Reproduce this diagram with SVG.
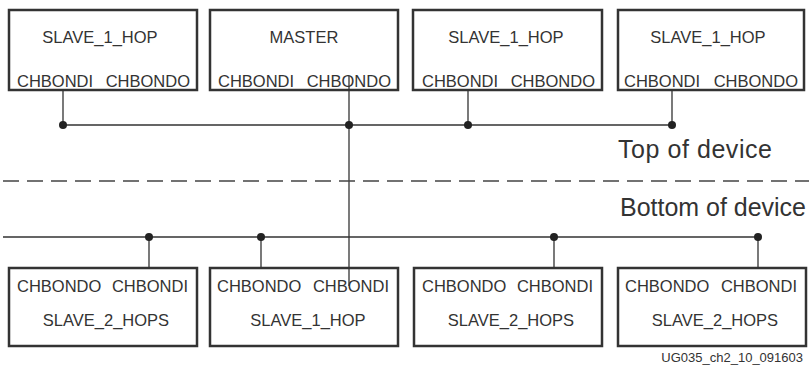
<svg xmlns="http://www.w3.org/2000/svg" width="809" height="370" viewBox="0 0 809 370">
<style>
.box{fill:#fff;stroke:#333;stroke-width:2.5}
.t{font-family:"Liberation Sans",Arial,sans-serif;font-size:16.5px;fill:#333}
.big{font-family:"Liberation Sans",Arial,sans-serif;font-size:25px;fill:#333}
.sm{font-family:"Liberation Sans",Arial,sans-serif;font-size:13px;fill:#333}
.w{stroke:#333;stroke-width:1.3;fill:none}
.dot{fill:#222}
</style>
<rect width="809" height="370" fill="#fff"/>
<g id="top1"><rect class="box" x="9" y="10" width="188" height="80"/>
<text class="t" x="100" y="43" text-anchor="middle">SLAVE_1_HOP</text>
<text class="t" x="17" y="87">CHBONDI</text><text class="t" x="190" y="87" text-anchor="end">CHBONDO</text></g>
<g id="master"><rect class="box" x="210" y="10" width="188" height="80"/>
<text class="t" x="304" y="43" text-anchor="middle">MASTER</text>
<text class="t" x="218" y="87">CHBONDI</text><text class="t" x="391" y="87" text-anchor="end">CHBONDO</text></g>
<g id="top3"><rect class="box" x="413" y="10" width="189" height="80"/>
<text class="t" x="506" y="43" text-anchor="middle">SLAVE_1_HOP</text>
<text class="t" x="422" y="87">CHBONDI</text><text class="t" x="595" y="87" text-anchor="end">CHBONDO</text></g>
<g id="top4"><rect class="box" x="618" y="10" width="186" height="80"/>
<text class="t" x="708" y="43" text-anchor="middle">SLAVE_1_HOP</text>
<text class="t" x="624" y="87">CHBONDI</text><text class="t" x="798" y="87" text-anchor="end">CHBONDO</text></g>
<g id="bot1"><rect class="box" x="9" y="268" width="188" height="78"/>
<text class="t" x="17" y="292">CHBONDO</text><text class="t" x="188" y="292" text-anchor="end">CHBONDI</text>
<text class="t" x="106" y="326" text-anchor="middle">SLAVE_2_HOPS</text></g>
<g id="bot2"><rect class="box" x="210" y="268" width="188" height="78"/>
<text class="t" x="217" y="292">CHBONDO</text><text class="t" x="389" y="292" text-anchor="end">CHBONDI</text>
<text class="t" x="308" y="326" text-anchor="middle">SLAVE_1_HOP</text></g>
<g id="bot3"><rect class="box" x="414" y="268" width="188" height="78"/>
<text class="t" x="422" y="292">CHBONDO</text><text class="t" x="593" y="292" text-anchor="end">CHBONDI</text>
<text class="t" x="511" y="326" text-anchor="middle">SLAVE_2_HOPS</text></g>
<g id="bot4"><rect class="box" x="618" y="268" width="188" height="78"/>
<text class="t" x="625" y="292">CHBONDO</text><text class="t" x="797" y="292" text-anchor="end">CHBONDI</text>
<text class="t" x="715" y="326" text-anchor="middle">SLAVE_2_HOPS</text></g>
<g id="connectors">
<path class="w" d="M63 90V125M468 90V125M672 90V125M63 125H672"/>
<path class="w" d="M349 76V286"/>
<path class="w" d="M3 237H758M149 237V268M261 237V268M554 237V268M758 237V268"/>
<circle class="dot" cx="63" cy="125" r="4"/><circle class="dot" cx="349" cy="125" r="4"/>
<circle class="dot" cx="468" cy="125" r="4"/><circle class="dot" cx="672" cy="125" r="4"/>
<circle class="dot" cx="149" cy="237" r="4"/><circle class="dot" cx="261" cy="237" r="4"/>
<circle class="dot" cx="554" cy="237" r="4"/><circle class="dot" cx="758" cy="237" r="4"/>
</g>
<line x1="3" y1="181" x2="809" y2="181" stroke="#444" stroke-width="1.5" stroke-dasharray="16 8"/>
<text class="big" x="618" y="158" textLength="154" lengthAdjust="spacing">Top of device</text>
<text class="big" x="620" y="216" textLength="186" lengthAdjust="spacing">Bottom of device</text>
<text class="sm" x="803" y="362" text-anchor="end">UG035_ch2_10_091603</text>
</svg>
